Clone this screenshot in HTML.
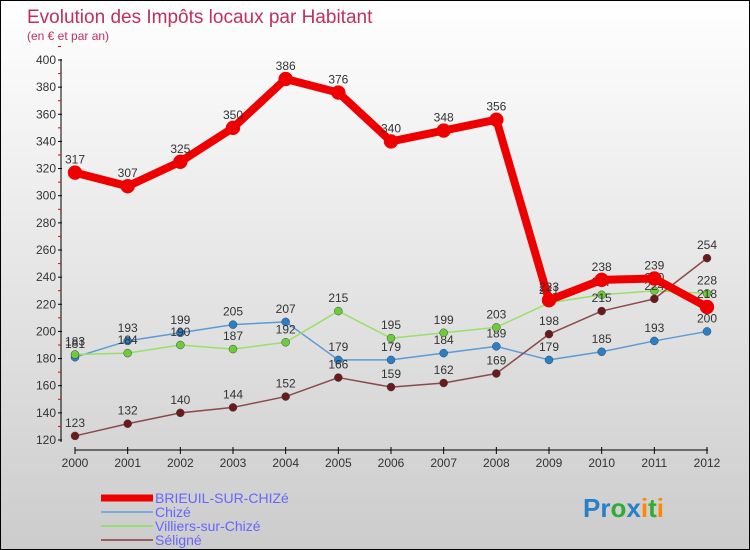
<!DOCTYPE html>
<html><head><meta charset="utf-8"><style>
body{margin:0}
#c{width:748px;height:548px;border:1px solid #000;background:linear-gradient(#fff,#ccc);position:relative;font-family:"Liberation Sans",sans-serif;overflow:hidden}
</style></head><body>
<div id="c">
<svg id="s" width="748" height="548" style="position:absolute;left:0;top:0"></svg>
</div>
<script>
const years=["2000","2001","2002","2003","2004","2005","2006","2007","2008","2009","2010","2011","2012"];
const brieuil=[317,307,325,350,386,376,340,348,356,223,238,239,218];
const chize=[181,193,199,205,207,179,179,184,189,179,185,193,200];
const villiers=[183,184,190,187,192,215,195,199,203,221,227,230,228];
const seligne=[123,132,140,144,152,166,159,162,169,198,215,224,254];
const yTicks=[120,140,160,180,200,220,240,260,280,300,320,340,360,380,400];
const names=["BRIEUIL-SUR-CHIZé","Chizé","Villiers-sur-Chizé","Séligné"];
const s=document.getElementById('s');const NS="http://www.w3.org/2000/svg";
function el(t,a,p){const e=document.createElementNS(NS,t);for(const k in a)e.setAttribute(k,a[k]);(p||s).appendChild(e);return e;}
const X=i=>74+i*(632/12), Y=v=>439-(v-120)*(380/280);
let t=el('text',{x:26,y:22,'font-size':19,fill:'#c0305a'});t.textContent="Evolution des Impôts locaux par Habitant";

t=el('text',{x:26,y:39,'font-size':12,fill:'#c0305a'});t.textContent="(en € et par an)";

el('line',{x1:60,y1:58,x2:60,y2:441,stroke:'#000'});
el('line',{x1:74,y1:449,x2:707,y2:449,stroke:'#000'});
yTicks.forEach(v=>{el('line',{x1:57,x2:61,y1:Y(v),y2:Y(v),stroke:'#000'});
 el('line',{x1:57,x2:60,y1:Y(v+10),y2:Y(v+10),stroke:'#e00'});
 const tt=el('text',{x:55,y:Y(v)+4,'font-size':12,'text-anchor':'end',fill:'#333'});tt.textContent=v;
 });
years.forEach((y,i)=>{el('line',{x1:X(i),x2:X(i),y1:446,y2:453,stroke:'#000'});
 const tt=el('text',{x:X(i),y:466,'font-size':12,'text-anchor':'middle',fill:'#333'});tt.textContent=y;
 });
const series=[[chize,'#5b9bd5','#2a7fc9',1.5,4],[villiers,'#99e066','#6ecb3a',1.5,4],[seligne,'#8b4a4a','#6b1a1a',1.5,4],[brieuil,'#ee0000','#ee0000',8,7]];
series.forEach(([d,c,m,w,r],k)=>{
 const g=el('g',{});
 el('polyline',{points:d.map((v,i)=>X(i)+','+Y(v)).join(' '),fill:'none',stroke:c,'stroke-width':w,'stroke-linejoin':'round'},g);
 d.forEach((v,i)=>{const p=el('circle',{cx:X(i),cy:Y(v),r:r,fill:m,stroke:k==3?'#e00':'#444','stroke-width':0.5},g);
  
  const tt=el('text',{x:X(i),y:Y(v)-9,'font-size':12,'text-anchor':'middle',fill:'#333'},g);tt.textContent=v;});
});
const lc=[['#ee0000',7],['#7aaad5',2],['#99dd77',2],['#9a6060',2]];
names.forEach((n,i)=>{const y=497+i*14;
 el('line',{x1:100,x2:152,y1:y,y2:y,stroke:lc[i][0],'stroke-width':lc[i][1]});
 const tt=el('text',{x:154,y:y+5,'font-size':14,fill:'#6666ff'});tt.textContent=n;
 });
const lg=el('text',{x:582,y:516,'font-size':26,'font-weight':'bold'});
[['P','#2a7fc9'],['r','#2a7fc9'],['o','#3a3'],['x','#2a7fc9'],['i','#f80'],['t','#3a3'],['i','#f80']].forEach(([c,f])=>{const ts=el('tspan',{fill:f},lg);ts.textContent=c;});
</script>
</body></html>
